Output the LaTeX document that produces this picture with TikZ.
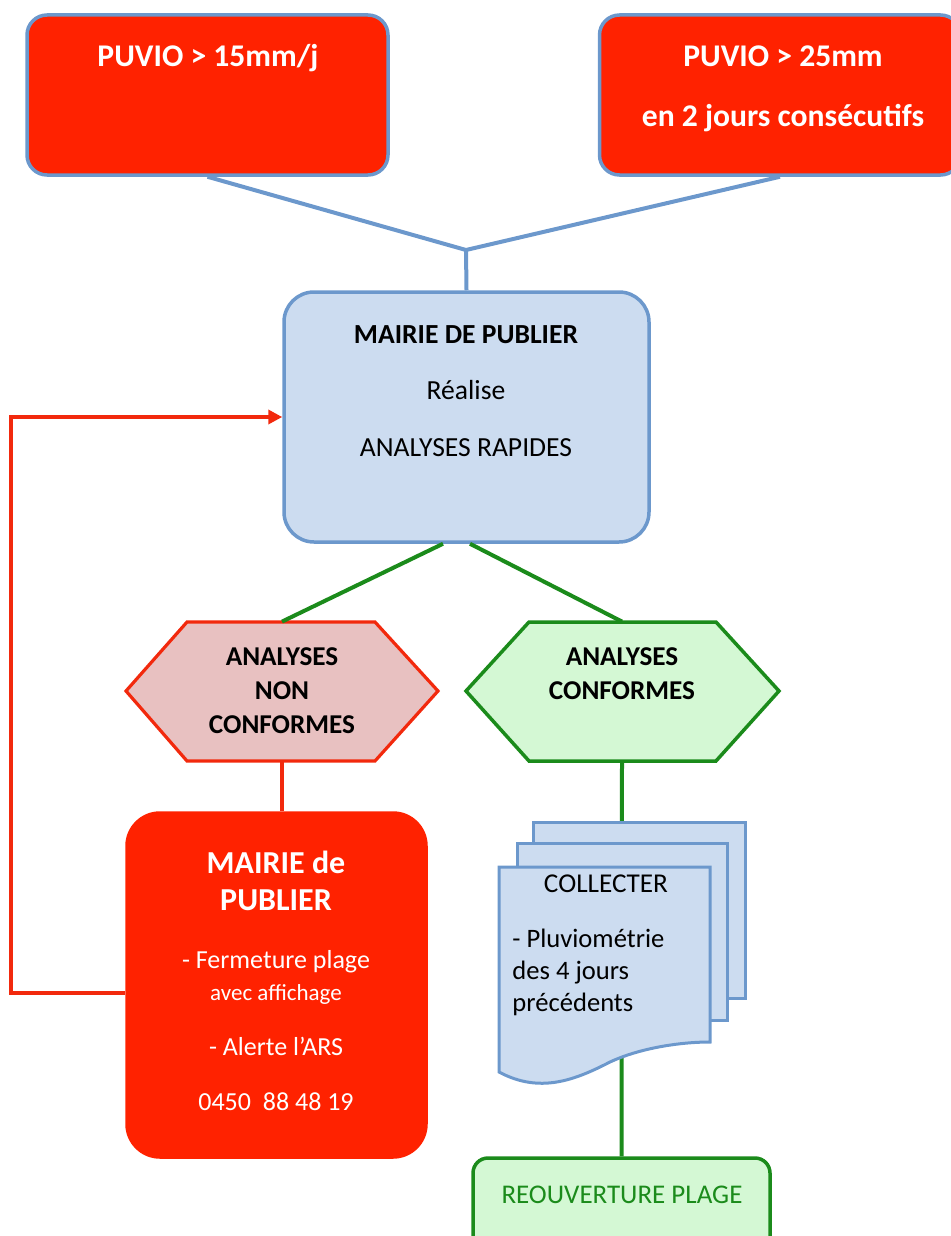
\documentclass[tikz,border=0pt]{standalone}
\usepackage{fontspec}
\setmainfont{Carlito}
\usetikzlibrary{arrows.meta}
\definecolor{pvred}{HTML}{FF2200}
\definecolor{pvblue}{HTML}{6C98CC}
\definecolor{pvbluefill}{HTML}{CCDCF0}
\definecolor{pvpink}{HTML}{E8C1C1}
\definecolor{pvgreen}{HTML}{1B8B1B}
\definecolor{pvgreenfill}{HTML}{D4F8D4}
\definecolor{pvredline}{HTML}{F2290D}

\begin{document}
\begin{tikzpicture}[x=0.5pt,y=-0.5pt,
    shapebox/.style={inner sep=0pt,line width=1.75pt},
    alertbox/.style={shapebox,fill=pvred,draw=pvblue,rounded corners=10pt,
      minimum width=180.5pt,minimum height=80pt},
    bluelink/.style={draw=pvblue,line width=2pt},
    greenlink/.style={draw=pvgreen,line width=2pt},
    redlink/.style={draw=pvredline,line width=2pt},
    page/.style={fill=pvbluefill,draw=pvblue,line width=1.5pt},
    lbl/.style={inner sep=0pt,anchor=base,align=flush center},
    hexnode/.style={inner sep=0pt,minimum width=156pt,minimum height=69.5pt}]
  \useasboundingbox (0,0) rectangle (951,1236);

  \node[alertbox] (p15) at (207.5,95) {};
  \node[alertbox] (p25) at (780,95) {};
  \node[shapebox,fill=pvbluefill,draw=pvblue,rounded corners=15pt,
    minimum width=182.5pt,minimum height=125pt] (mairie) at (466.5,417) {};

  \fill[pvpink] (126,691) -- (187,622) -- (375,622) -- (438,691) -- (375,761) -- (187,761) -- cycle;
  \draw[pvredline,line width=1.6pt] (126,691) -- (187,622) -- (375,622) -- (438,691) -- (375,761) -- (187,761) -- cycle;
  \node[hexnode] (nc) at (282,691.5) {};
  \draw[pvgreen,line width=1.75pt,fill=pvgreenfill] (466,691) -- (529,622) -- (716,622) -- (779,691) -- (716,761) -- (529,761) -- cycle;
  \node[hexnode] (c) at (622,691.5) {};

  \node[shapebox,fill=pvred,draw=pvred,rounded corners=16.5pt,
    minimum width=149.5pt,minimum height=172pt] (rbox) at (276.5,985) {};
  \node[shapebox,fill=pvgreenfill,draw=pvgreen,rounded corners=7.5pt,
    minimum width=148.5pt,minimum height=51pt] (reouv) at (621.5,1209) {};

  \coordinate (j) at (466,250);
  \draw[bluelink] (p15.south) -- (j) -- (p25.south);
  \draw[bluelink] (j) -- (mairie.north);
  \draw[greenlink] ([xshift=-11.75pt]mairie.south) -- (nc.north);
  \draw[greenlink] ([xshift=1.75pt]mairie.south) -- (c.north);
  \draw[redlink] (nc.south) -- (nc.south |- rbox.north);
  \draw[greenlink] (c.south) -- (reouv.north);
  \draw[redlink,-{Triangle[length=7pt,width=7pt]}] ([yshift=-4pt]rbox.west) -- ++(-57pt,0) |- (mairie.west);

  \draw[page] (533,822) rectangle (745,998);
  \draw[page] (517,843) rectangle (727,1020);
  \draw[page] (499,867) -- (710,867) -- (710,1042)
    .. controls (680,1042) and (640,1048) .. (610,1062)
    .. controls (575,1080) and (540,1094) .. (499,1072) -- cycle;

  \node[lbl,text=white,font=\fontsize{15.8}{18}\selectfont\bfseries] (t15) at (208,67) {PUVIO > 15mm/j};
  \node[lbl,text=white,text width=180pt,font=\fontsize{15.8}{30}\selectfont\bfseries] (t25) at (783,67)
    {PUVIO > 25mm\\en 2 jours consécutifs};
  \node[lbl,text width=175pt,font=\fontsize{13.8}{28.25}\selectfont] (tm) at (466,343)
    {\textbf{MAIRIE DE PUBLIER}\\Réalise\\ANALYSES RAPIDES};
  \node[lbl,text width=150pt,font=\fontsize{13.6}{17}\selectfont\bfseries] (tnc) at (282,665)
    {ANALYSES\\NON\\CONFORMES};
  \node[lbl,text width=150pt,font=\fontsize{13.6}{17}\selectfont\bfseries] (tc) at (622,665)
    {ANALYSES\\CONFORMES};
  \node[lbl,text=white,text width=145pt,font=\fontsize{13}{16}\selectfont] (trbox) at (276,873)
    {{\fontsize{16}{16}\selectfont\bfseries MAIRIE de\\[2.5pt]PUBLIER}\\[13pt]
     - Fermeture plage\\{\fontsize{11.5}{16}\selectfont avec affichage}\\[11.5pt]
     - Alerte l’ARS\\[11.5pt]0450~~88 48 19};
  \node[lbl,font=\fontsize{13.6}{16}\selectfont] (tcoll) at (606,892) {COLLECTER};
  \node[lbl,anchor=base west,text width=100pt,align=flush left,font=\fontsize{13.3}{16}\selectfont] (tpluvio) at (512,947)
    {- Pluviométrie\\des 4 jours\\précédents};
  \node[lbl,text=pvgreen,font=\fontsize{13.5}{16}\selectfont] (treouv) at (622,1203) {REOUVERTURE PLAGE};
\end{tikzpicture}
\end{document}
